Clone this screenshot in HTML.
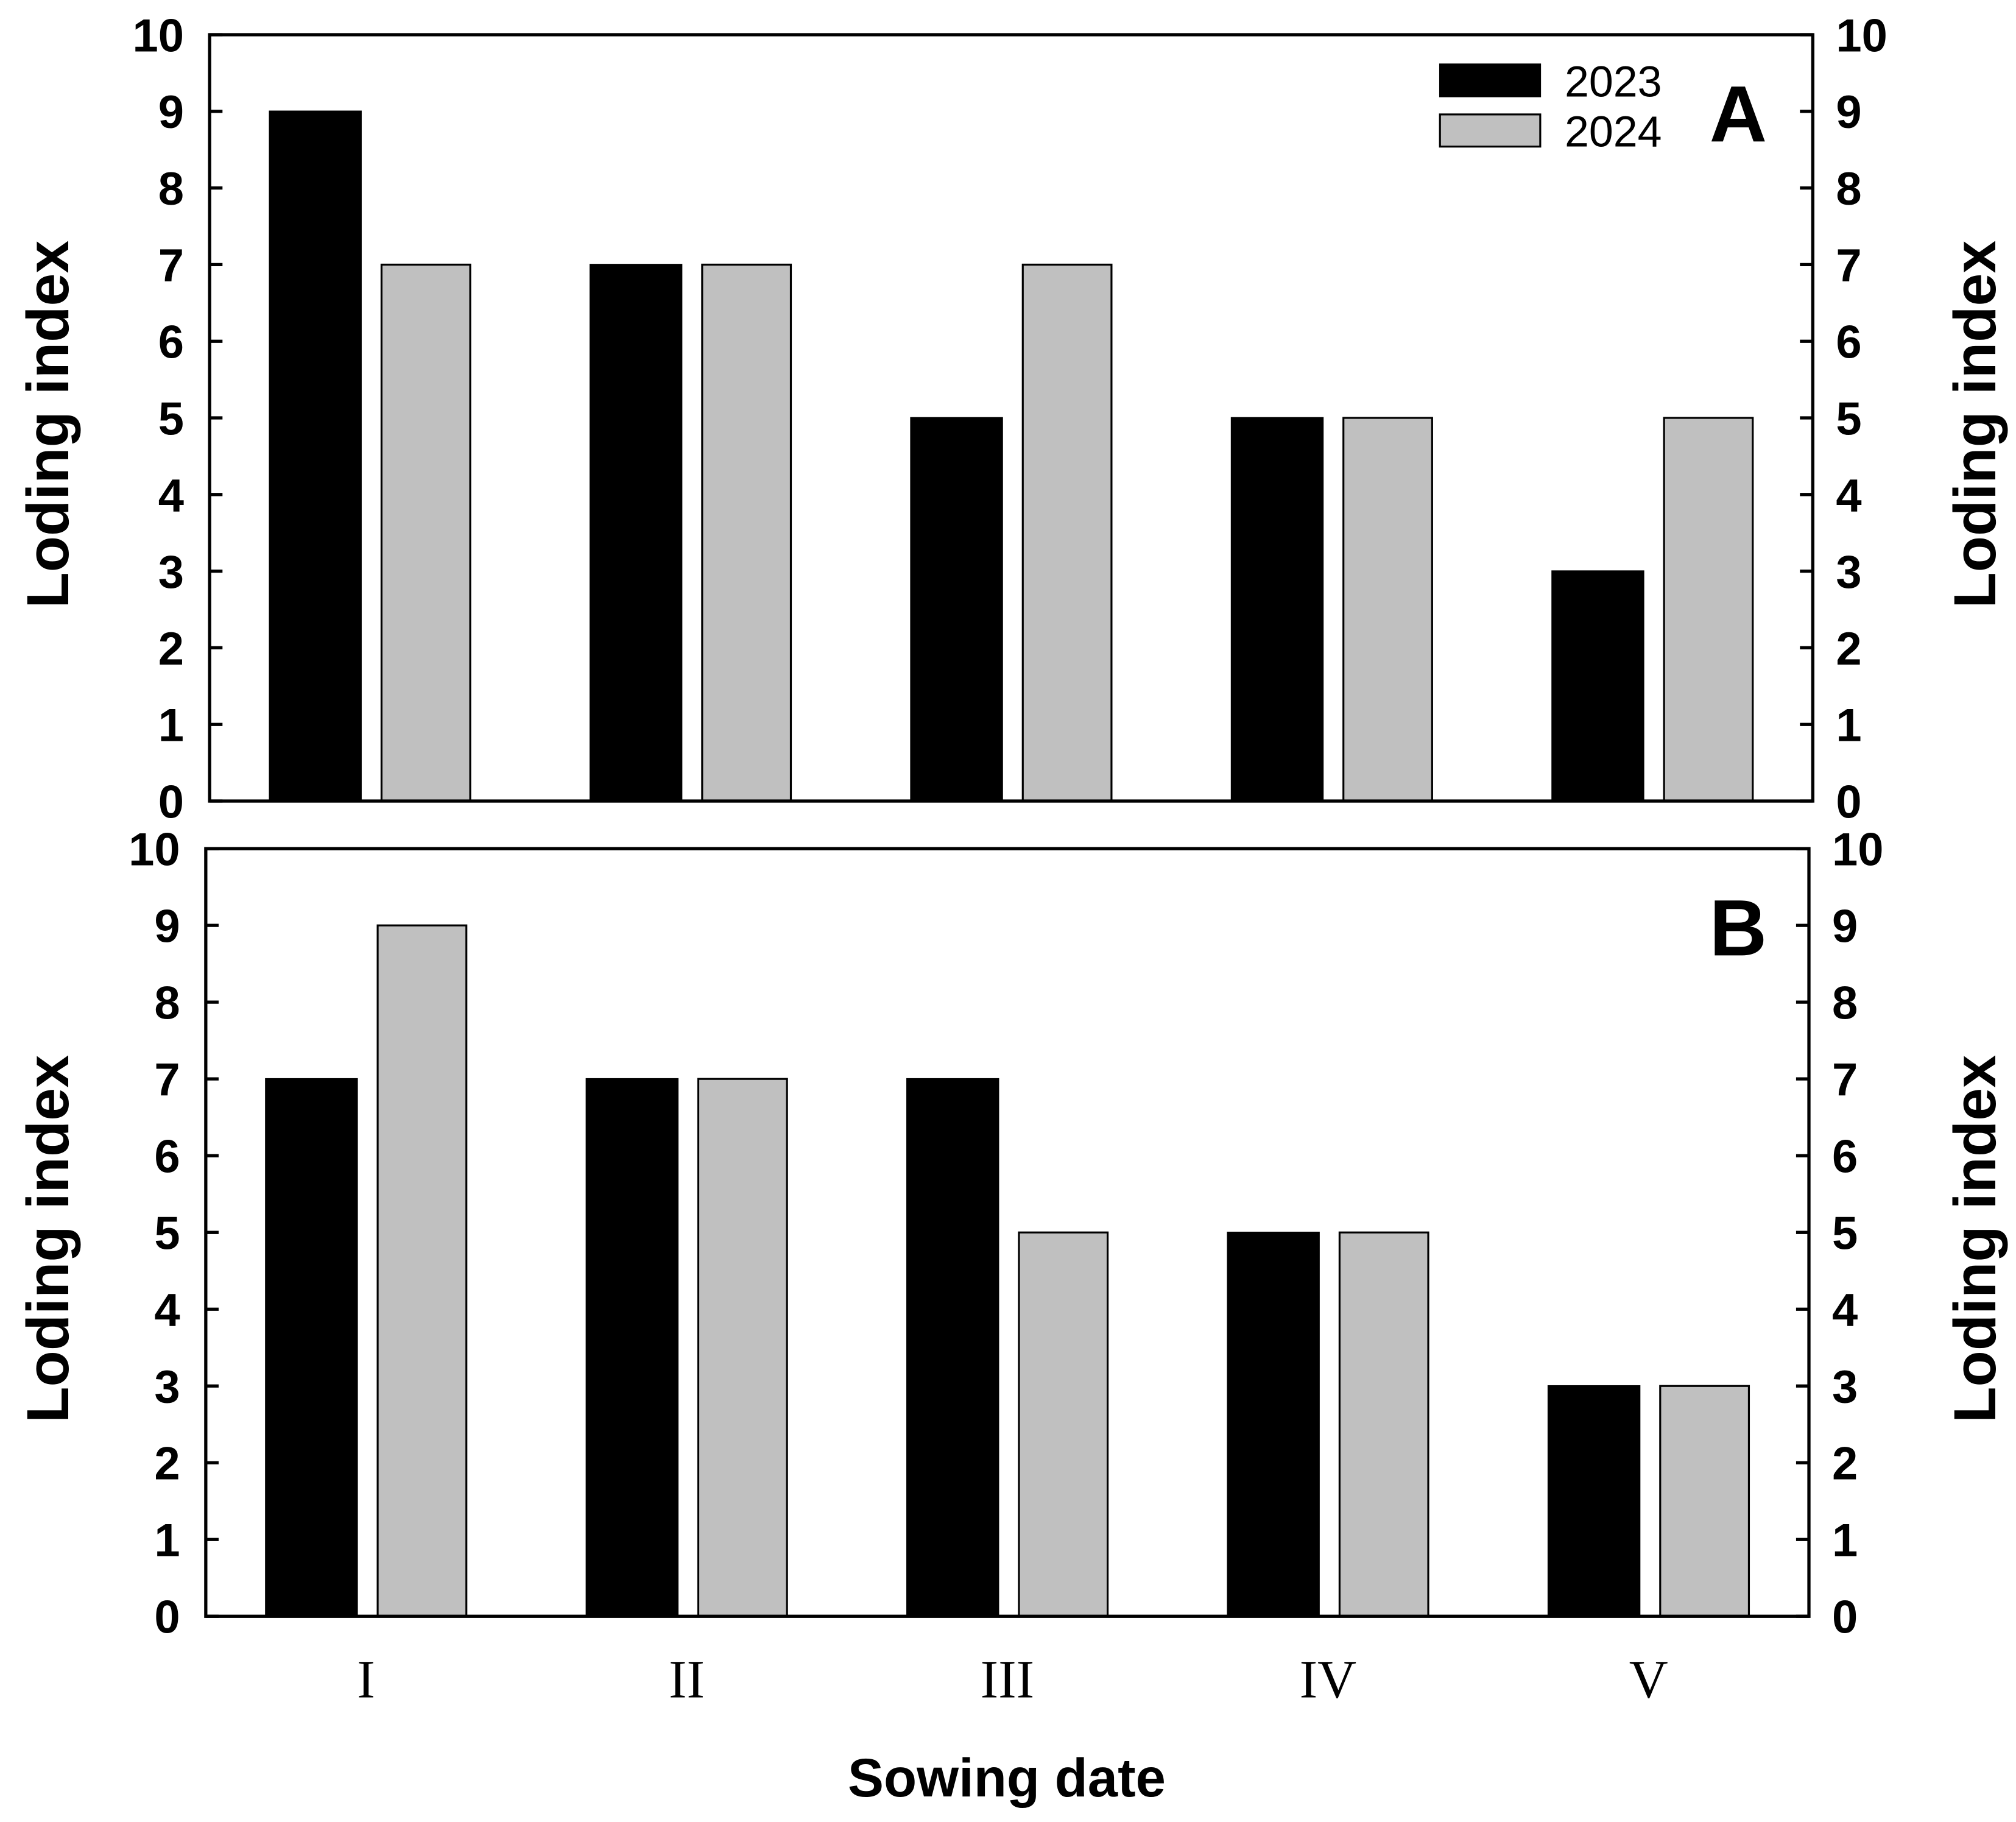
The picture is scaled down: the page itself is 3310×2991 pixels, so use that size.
<!DOCTYPE html>
<html><head><meta charset="utf-8"><style>html,body{margin:0;padding:0;background:#fff}svg{display:block}</style></head>
<body>
<svg id="chart" xmlns="http://www.w3.org/2000/svg" width="3310" height="2991" viewBox="0 0 1568 1417">
<rect x="0" y="0" width="1568" height="1417" fill="#fff"/>
<g id="root"></g>
</svg>
<script>
const categories = ["I","II","III","IV","V"];
const panelA2023 = [9,7,5,5,3];
const panelA2024 = [7,7,7,5,5];
const panelB2023 = [7,7,7,5,3];
const panelB2024 = [9,7,5,5,3];
const yTicks = [0,1,2,3,4,5,6,7,8,9,10];
const NS = "http://www.w3.org/2000/svg";
const root = document.getElementById('root');
function mk(tag, attrs, parent, text){
  const e = document.createElementNS(NS, tag);
  for (const k in attrs) e.setAttribute(k, attrs[k]);
  if (text !== undefined) e.textContent = text;
  (parent||root).appendChild(e);
  return e;
}
const FONT = '"Liberation Sans", Arial, sans-serif';
function panel(id, L, R, T, B, s23, s24, letter){
  const g = mk('g', {});
  
  
  const y = v => B - (B - T) * v / 10;
  const bw = (R - L) / categories.length;
  const xc = i => L + (i + 0.5) * bw;
  categories.forEach((c, i) => {
    const b1 = mk('rect', {x: xc(i) - 78, y: y(s23[i]), width: 71, height: B - y(s23[i]), fill: '#000', stroke: '#000', 'stroke-width': 1.2}, g);
    
    
    const b2 = mk('rect', {x: xc(i) + 9, y: y(s24[i]), width: 69, height: B - y(s24[i]), fill: '#c0c0c0', stroke: '#000', 'stroke-width': 1.5}, g);
    
    
  });
  const fr = mk('rect', {x: L, y: T, width: R - L, height: B - T, fill: 'none', stroke: '#000', 'stroke-width': 2.5}, g);
  
  
  yTicks.forEach(t => {
    mk('line', {x1: L, x2: L + 10, y1: y(t), y2: y(t), stroke: '#000', 'stroke-width': 2.5}, g);
    mk('line', {x1: R - 10, x2: R, y1: y(t), y2: y(t), stroke: '#000', 'stroke-width': 2.5}, g);
    const tl = mk('text', {x: L - 20, y: y(t) + 13, 'text-anchor': 'end', 'font-family': FONT, 'font-size': 36, 'font-weight': 'bold'}, g, String(t));
    
    
    const tr = mk('text', {x: R + 18, y: y(t) + 13, 'text-anchor': 'start', 'font-family': FONT, 'font-size': 36, 'font-weight': 'bold'}, g, String(t));
    
    
  });
  const cy = (T + B) / 2 + 5;
  const yl = mk('text', {x: 0, y: 0, transform: `translate(53,${cy}) rotate(-90)`, 'text-anchor': 'middle', 'font-family': FONT, 'font-size': 46, 'font-weight': 'bold'}, g, 'Loding index');
  
  
  const yr = mk('text', {x: 0, y: 0, transform: `translate(1552,${cy}) rotate(-90)`, 'text-anchor': 'middle', 'font-family': FONT, 'font-size': 46, 'font-weight': 'bold'}, g, 'Loding index');
  
  
  const pl = mk('text', {x: 1352, y: T + 83, 'text-anchor': 'middle', 'font-family': FONT, 'font-size': 62, 'font-weight': 'bold'}, g, letter);
  
  
  return xc;
}
panel('a', 163, 1410, 27, 623, panelA2023, panelA2024, 'A');
const xcB = panel('b', 160, 1407, 660, 1257, panelB2023, panelB2024, 'B');
categories.forEach((c, i) => {
  const t = mk('text', {x: xcB(i), y: 1320, 'text-anchor': 'middle', 'font-family': '"Liberation Serif", serif', 'font-size': 42}, root, c);
  
  
});
const xt = mk('text', {x: 783, y: 1397, 'text-anchor': 'middle', 'font-family': FONT, 'font-size': 42, 'font-weight': 'bold'}, root, 'Sowing date');


const lg = mk('g', {});


mk('rect', {x: 1120, y: 50, width: 78, height: 25, fill: '#000', stroke: '#000', 'stroke-width': 1.2}, lg);
mk('rect', {x: 1120, y: 89, width: 78, height: 25, fill: '#c0c0c0', stroke: '#000', 'stroke-width': 1.5}, lg);
const l1 = mk('text', {x: 1217, y: 75, 'font-family': FONT, 'font-size': 34}, lg, '2023');


const l2 = mk('text', {x: 1217, y: 114, 'font-family': FONT, 'font-size': 34}, lg, '2024');


</script>
</body></html>
